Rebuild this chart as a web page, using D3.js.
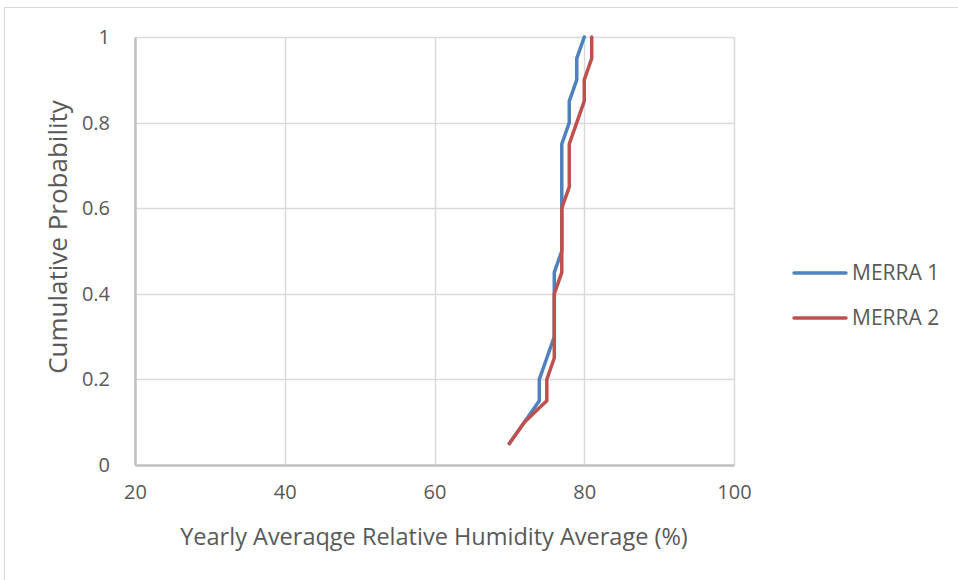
<!DOCTYPE html>
<html>
<head>
<meta charset="utf-8">
<script src="https://cdn.jsdelivr.net/npm/d3@7"></script>
<style>
  html, body { margin: 0; padding: 0; background: #fff; }
  svg { display: block; }
  text { font-family: "Open Sans", Lato, sans-serif; fill: #595959; }
</style>
</head>
<body>
<svg id="chart" width="958" height="580"></svg>
<script>
// Cumulative probability levels shared by both series
const probs = [0.05, 0.1, 0.15, 0.2, 0.25, 0.3, 0.35, 0.4, 0.45, 0.5,
               0.55, 0.6, 0.65, 0.7, 0.75, 0.8, 0.85, 0.9, 0.95, 1.0];
// Sorted yearly average relative humidity (%)
const merra1 = [70, 72, 74, 74, 75, 76, 76, 76, 76, 77,
                77, 77, 77, 77, 77, 78, 78, 79, 79, 80];
const merra2 = [70, 72, 75, 75, 76, 76, 76, 76, 77, 77,
                77, 77, 78, 78, 78, 79, 80, 80, 81, 81];
const seriesNames = ["MERRA 1", "MERRA 2"];
const seriesColors = ["#4f81bd", "#c0504d"];
const xTicks = [20, 40, 60, 80, 100];
const yTicks = [0, 0.2, 0.4, 0.6, 0.8, 1];

const FONT = "'Open Sans', Lato, sans-serif";
const svg = d3.select("#chart");

// outer chart frame
svg.append("rect")
  .attr("x", 4.5).attr("y", 7.5)
  .attr("width", 1000).attr("height", 1000)
  .attr("fill", "none").attr("stroke", "#d9d9d9").attr("stroke-width", 1);

const plot = { left: 135, right: 734, top: 37, bottom: 465 };
const x = d3.scaleLinear().domain([20, 100]).range([plot.left, plot.right]);
const y = d3.scaleLinear().domain([0, 1]).range([plot.bottom, plot.top]);

// gridlines
const grid = svg.append("g");
grid.selectAll("line.v").data(xTicks.slice(1)).join("line")
  .attr("x1", d => Math.round(x(d)) + 0.5).attr("x2", d => Math.round(x(d)) + 0.5)
  .attr("y1", plot.top).attr("y2", plot.bottom)
  .attr("stroke", "#d9d9d9").attr("stroke-width", 1.5);
grid.selectAll("line.h").data(yTicks.slice(1)).join("line")
  .attr("y1", d => Math.round(y(d)) + 0.5).attr("y2", d => Math.round(y(d)) + 0.5)
  .attr("x1", plot.left).attr("x2", plot.right)
  .attr("stroke", "#d9d9d9").attr("stroke-width", 1.5);

// axes
const xAxis = svg.append("g")
  .attr("transform", `translate(0,${plot.bottom})`)
  .call(d3.axisBottom(x).tickValues(xTicks).tickSize(0).tickPadding(20).tickFormat(d3.format("d")));
xAxis.select(".domain").attr("stroke", "#bfbfbf").attr("stroke-width", 2.5);
xAxis.selectAll("text").style("font-size", "20px").attr("fill", "#595959")
  .style("font-family", FONT);

const yAxis = svg.append("g")
  .attr("transform", `translate(${plot.left},0)`)
  .call(d3.axisLeft(y).tickValues(yTicks).tickSize(0).tickPadding(25)
    .tickFormat(d => d === 0 || d === 1 ? d3.format("d")(d) : d3.format(".1f")(d)));
yAxis.select(".domain").attr("stroke", "#bfbfbf").attr("stroke-width", 2.5);
yAxis.selectAll("text").style("font-size", "20px").attr("fill", "#595959")
  .style("font-family", FONT);

// axis titles
svg.append("text")
  .attr("x", 434).attr("y", 545)
  .attr("text-anchor", "middle")
  .style("font-size", "23.5px")
  .text("Yearly Averaqge Relative Humidity Average (%)");
svg.append("text")
  .attr("transform", "translate(67,237) rotate(-90)")
  .attr("text-anchor", "middle")
  .style("font-size", "26px")
  .text("Cumulative Probability");

// CDF lines
const series = [merra1, merra2];
const line = d3.line().x(d => x(d[0])).y(d => y(d[1]));
series.forEach((vals, i) => {
  svg.append("path")
    .datum(vals.map((v, j) => [v, probs[j]]))
    .attr("d", line)
    .attr("fill", "none")
    .attr("stroke", seriesColors[i])
    .attr("stroke-width", 3.5)
    .attr("stroke-linejoin", "round")
    .attr("stroke-linecap", "round");
});

// legend
const legend = svg.append("g");
seriesNames.forEach((name, i) => {
  const ly = 273 + i * 45;
  legend.append("line")
    .attr("x1", 794).attr("x2", 846).attr("y1", ly).attr("y2", ly)
    .attr("stroke", seriesColors[i]).attr("stroke-width", 3.5)
    .attr("stroke-linecap", "round");
  legend.append("text")
    .attr("x", 852).attr("y", ly + 7)
    .style("font-size", "21px")
    .text(name);
});
</script>
</body>
</html>
